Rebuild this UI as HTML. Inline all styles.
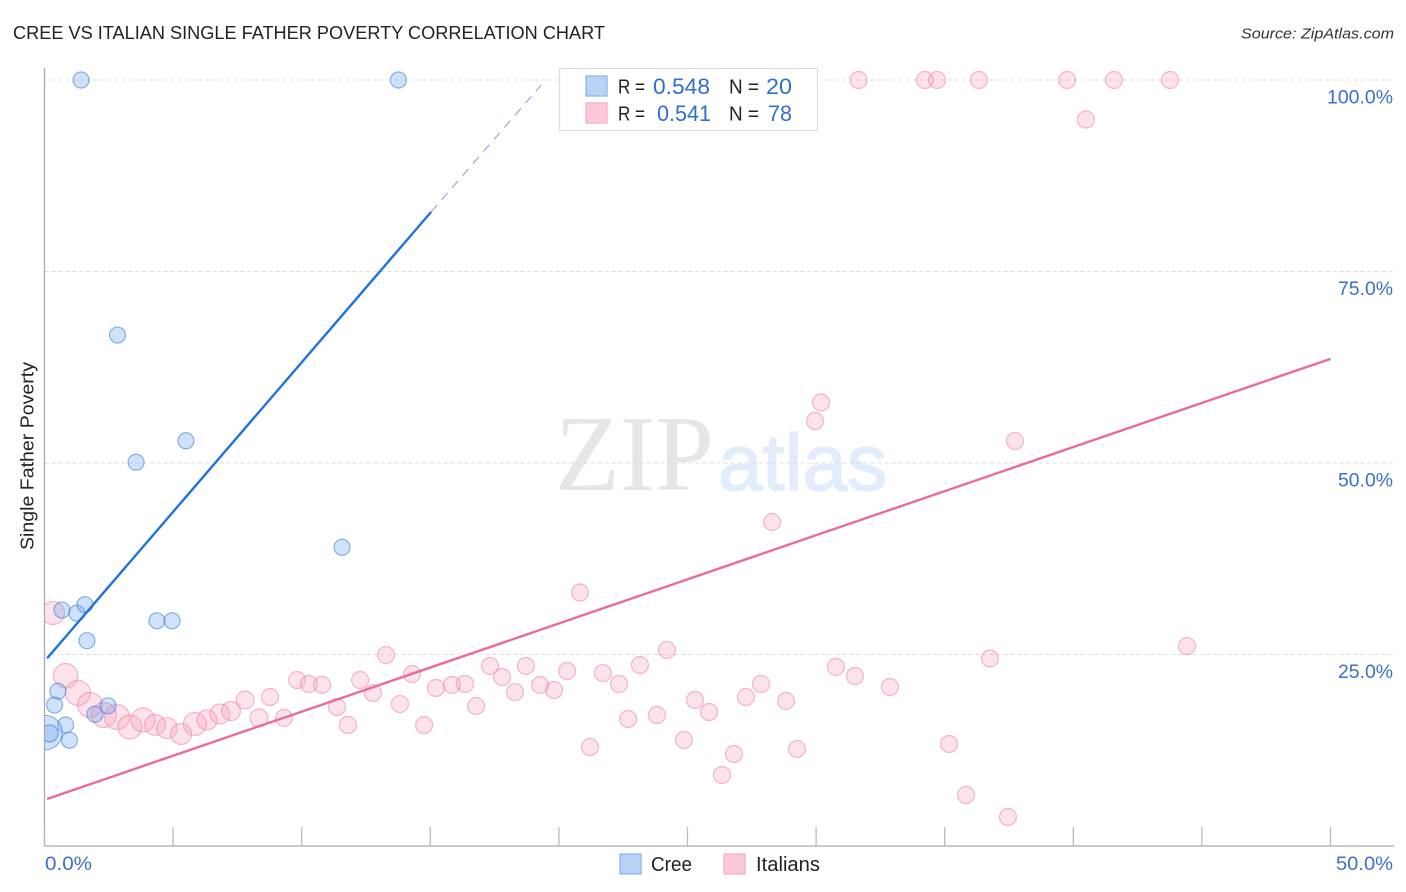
<!DOCTYPE html>
<html lang="en">
<head>
<meta charset="utf-8">
<title>Cree vs Italian Single Father Poverty Correlation Chart</title>
<style>
html,body{margin:0;padding:0;background:#fff;width:1406px;height:892px;overflow:hidden}
svg{display:block}
text{font-family:"Liberation Sans",sans-serif}
.tick{fill:#3b6fcf;font-size:19px}
.leg{fill:#222;font-size:20px}
.val{fill:#2f6fd0;font-size:22px}
</style>
</head>
<body>
<svg id="chart" xmlns="http://www.w3.org/2000/svg" width="1406" height="892" viewBox="0 0 1406 892">
  <defs>
    <clipPath id="plot-clip"><rect x="45" y="60" width="1349" height="786"/></clipPath>
  </defs>
  <rect x="0" y="0" width="1406" height="892" fill="#fff"/>
  <text x="13" y="39" font-size="18.5" fill="#222" textLength="592" lengthAdjust="spacingAndGlyphs">CREE VS ITALIAN SINGLE FATHER POVERTY CORRELATION CHART</text>
  <text x="1394" y="38.5" font-size="15" font-style="italic" fill="#333" text-anchor="end" textLength="153" lengthAdjust="spacingAndGlyphs">Source: ZipAtlas.com</text>
  <text transform="translate(33.5,456) rotate(-90)" font-size="18.5" fill="#222" text-anchor="middle" textLength="188" lengthAdjust="spacingAndGlyphs">Single Father Poverty</text>

  <g id="watermark">
    <text x="555" y="490" font-size="108" fill="#e6e6e6" style="font-family:'Liberation Serif',serif" textLength="159" lengthAdjust="spacingAndGlyphs">ZIP</text>
    <text x="718" y="490" font-size="80" fill="#e2ecfa" stroke="#e2ecfa" stroke-width="1.5" textLength="169" lengthAdjust="spacingAndGlyphs">atlas</text>
  </g>

  <g id="grid"></g>
  <g id="axes"></g>
  <g id="points-italians" clip-path="url(#plot-clip)"></g>
  <g id="points-cree" clip-path="url(#plot-clip)"></g>
  <g id="trends"></g>
  <g id="tick-labels"></g>

  <g>
    <rect x="559.5" y="68.5" width="258" height="62" fill="#fff" stroke="#dcdcdc" stroke-width="1.2"/>
    <rect x="586" y="76" width="21" height="20" fill="#b9d3f6" stroke="#8ab2e8" stroke-width="1.2"/>
    <rect x="586" y="103" width="21" height="20" fill="#fcc8da" stroke="#f5a9c4" stroke-width="1.2"/>
    <text class="leg" x="618" y="93.5" textLength="27" lengthAdjust="spacingAndGlyphs">R =</text>
    <text class="val" x="653" y="94" textLength="57" lengthAdjust="spacingAndGlyphs">0.548</text>
    <text class="leg" x="729" y="93.5" textLength="30" lengthAdjust="spacingAndGlyphs">N =</text>
    <text class="val" x="766" y="94" textLength="26" lengthAdjust="spacingAndGlyphs">20</text>
    <text class="leg" x="618" y="120.5" textLength="27" lengthAdjust="spacingAndGlyphs">R =</text>
    <text class="val" x="657" y="121" textLength="54" lengthAdjust="spacingAndGlyphs">0.541</text>
    <text class="leg" x="729" y="120.5" textLength="30" lengthAdjust="spacingAndGlyphs">N =</text>
    <text class="val" x="768" y="121" textLength="24" lengthAdjust="spacingAndGlyphs">78</text>
  </g>

  <g>
    <rect x="620" y="854" width="21" height="20" fill="#b9d3f6" stroke="#8ab2e8" stroke-width="1.2"/>
    <text class="leg" x="651" y="871" textLength="41" lengthAdjust="spacingAndGlyphs">Cree</text>
    <rect x="724" y="854" width="21" height="20" fill="#fcc8da" stroke="#f5a9c4" stroke-width="1.2"/>
    <text class="leg" x="756" y="871" textLength="64" lengthAdjust="spacingAndGlyphs">Italians</text>
  </g>
</svg>
<script>
const xTicks = [0, 5, 10, 15, 20, 25, 30, 35, 40, 45, 50];
const yGridValues = [25, 50, 75, 100];
const yTickLabels = ["25.0%", "50.0%", "75.0%", "100.0%"];
const xEdgeValues = [0, 50];
const xEdgeLabels = ["0.0%", "50.0%"];

const creeX = [1.42, 13.76, 2.84, 3.56, 5.50, 11.57, 0.68, 1.26, 1.57, 4.37, 4.96, 1.65, 0.52, 0.39, 0.82, 0.97, 0.02, 0.20, 1.96, 2.47];
const creeY = [100, 100, 66.7, 50.1, 52.9, 39.0, 30.8, 30.4, 31.5, 29.4, 29.4, 26.8, 20.2, 18.4, 15.8, 13.8, 14.8, 14.7, 17.2, 18.3];
const creeWeight = [1, 1, 1, 1, 1, 1, 1, 1, 1, 1, 1, 1, 1, 1, 1, 1, 4.4, 1.12, 1, 1];

const italianX = [31.65, 34.23, 34.70, 36.33, 39.76, 41.58, 43.76, 40.49, 30.19, 29.96, 37.73, 28.29, 20.82, 44.42, 36.76, 0.33,
  0.82, 1.30, 1.77, 2.31, 2.82, 3.32, 3.83, 4.30, 4.76, 5.31, 5.85, 6.32, 6.82, 7.25, 7.80, 8.34, 8.77, 9.31, 9.82, 10.28, 10.79,
  11.37, 11.80, 12.27, 12.77, 13.28, 13.82, 14.29, 14.76, 15.22, 15.84, 16.35, 16.78, 17.32, 17.79, 18.29, 18.72, 19.27, 19.81, 20.32,
  21.21, 21.71, 22.34, 22.69, 23.15, 23.81, 24.20, 24.86, 25.29, 25.84, 26.34, 26.81, 27.27, 27.86, 28.83, 29.26, 30.77, 31.51, 32.87, 35.17, 35.83, 37.46];
const italianY = [100, 100, 100, 100, 100, 100, 100, 94.84, 57.9, 55.48, 52.87, 42.3, 33.09, 26.11, 24.48, 30.42,
  22.23, 19.97, 18.41, 17.10, 16.84, 15.54, 16.45, 15.80, 15.40, 14.62, 15.93, 16.45, 17.23, 17.62, 19.06, 16.71, 19.45, 16.71, 21.67, 21.15, 21.02,
  18.15, 15.80, 21.67, 19.97, 24.93, 18.54, 22.45, 15.80, 20.63, 21.02, 21.15, 18.28, 23.50, 22.06, 20.10, 23.50, 21.02, 20.37, 22.85,
  12.92, 22.58, 21.15, 16.58, 23.63, 17.10, 25.59, 13.84, 19.06, 17.49, 9.27, 12.01, 19.45, 21.15, 18.93, 12.66, 23.37, 22.19, 20.76, 13.32, 6.66, 3.79];
const italianWeight = [1.12, 1.12, 1.12, 1.12, 1.12, 1.12, 1.12, 1.12, 1.12, 1.12, 1.12, 1.12, 1.12, 1.12, 1.12, 2,
  2.23, 2.34, 2.34, 2.34, 2.34, 2.16, 2.16, 1.67, 1.67, 1.67, 2, 1.53, 1.53, 1.38, 1.25, 1.25, 1.12, 1.12, 1.12, 1.12, 1.12,
  1.12, 1.12, 1.12, 1.12, 1.12, 1.12, 1.12, 1.12, 1.12, 1.12, 1.12, 1.12, 1.12, 1.12, 1.12, 1.12, 1.12, 1.12, 1.12,
  1.12, 1.12, 1.12, 1.12, 1.12, 1.12, 1.12, 1.12, 1.12, 1.12, 1.12, 1.12, 1.12, 1.12, 1.12, 1.12, 1.12, 1.12, 1.12, 1.12, 1.12, 1.12];

const creeTrendX = [0.1, 15.03];
const creeTrendY = [24.5, 82.77];
const creeDashX = [15.03, 19.3];
const creeDashY = [82.77, 99.3];
const italianTrendX = [0.1, 50];
const italianTrendY = [6.14, 63.6];

const NS = 'http://www.w3.org/2000/svg';
function sx(v) { return 44.5 + v * 25.72; }
function sy(v) { return 846 - v * 7.66; }
function sr(w) { return 8.5 * Math.sqrt(w); }
function mk(parent, tag, attrs) {
  const el = document.createElementNS(NS, tag);
  for (const k in attrs) el.setAttribute(k, attrs[k]);
  document.getElementById(parent).appendChild(el);
  return el;
}

yGridValues.forEach(function (v, i) {
  const g = mk('grid', 'line', {x1: 44.5, x2: 1394, y1: sy(v), y2: sy(v), stroke: '#dcdcdc', 'stroke-width': 1, 'stroke-dasharray': '4 3'});
  
  
  const t = mk('tick-labels', 'text', {x: 1393, y: sy(v) + 23.5, 'text-anchor': 'end', class: 'tick', textLength: yTickLabels[i].length === 6 ? 66 : 55, lengthAdjust: 'spacingAndGlyphs'});
  t.textContent = yTickLabels[i];
  
  
});

const yAxis = mk('axes', 'line', {x1: 44.5, x2: 44.5, y1: 68, y2: 846, stroke: '#aaa', 'stroke-width': 1.3});


const xAxis = mk('axes', 'line', {x1: 44, x2: 1394, y1: 846, y2: 846, stroke: '#aaa', 'stroke-width': 1.3});


xTicks.forEach(function (v) {
  const tk = mk('axes', 'line', {x1: sx(v), x2: sx(v), y1: 827, y2: 846, stroke: '#bbb', 'stroke-width': 1.3});
  
  
});
xEdgeValues.forEach(function (v, i) {
  const t = mk('tick-labels', 'text', {x: i === 0 ? sx(v) + 0.5 : 1393, y: 870, 'text-anchor': i === 0 ? 'start' : 'end', class: 'tick', textLength: i === 0 ? 47 : 57, lengthAdjust: 'spacingAndGlyphs'});
  t.textContent = xEdgeLabels[i];
  
  
});

italianX.forEach(function (x, i) {
  const c = mk('points-italians', 'circle', {cx: sx(x), cy: sy(italianY[i]), r: sr(italianWeight[i]) - 0.5, fill: 'rgba(245,160,190,0.3)', stroke: 'rgba(232,120,160,0.5)', 'stroke-width': 1.2});
  
  
});
creeX.forEach(function (x, i) {
  const c = mk('points-cree', 'circle', {cx: sx(x), cy: sy(creeY[i]), r: sr(creeWeight[i]) - 0.5, fill: 'rgba(110,165,240,0.32)', stroke: 'rgba(50,120,210,0.55)', 'stroke-width': 1.2});
  
  
});

const l1 = mk('trends', 'line', {x1: sx(creeTrendX[0]), y1: sy(creeTrendY[0]), x2: sx(creeTrendX[1]), y2: sy(creeTrendY[1]), stroke: '#2272dc', 'stroke-width': 2.4});


const l2 = mk('trends', 'line', {x1: sx(creeDashX[0]), y1: sy(creeDashY[0]), x2: sx(creeDashX[1]), y2: sy(creeDashY[1]), stroke: '#7f9fd6', 'stroke-width': 1, 'stroke-dasharray': '9 7'});


const l3 = mk('trends', 'line', {x1: sx(italianTrendX[0]), y1: sy(italianTrendY[0]), x2: sx(italianTrendX[1]), y2: sy(italianTrendY[1]), stroke: '#ea6a9c', 'stroke-width': 2.4});


</script>
</body>
</html>
